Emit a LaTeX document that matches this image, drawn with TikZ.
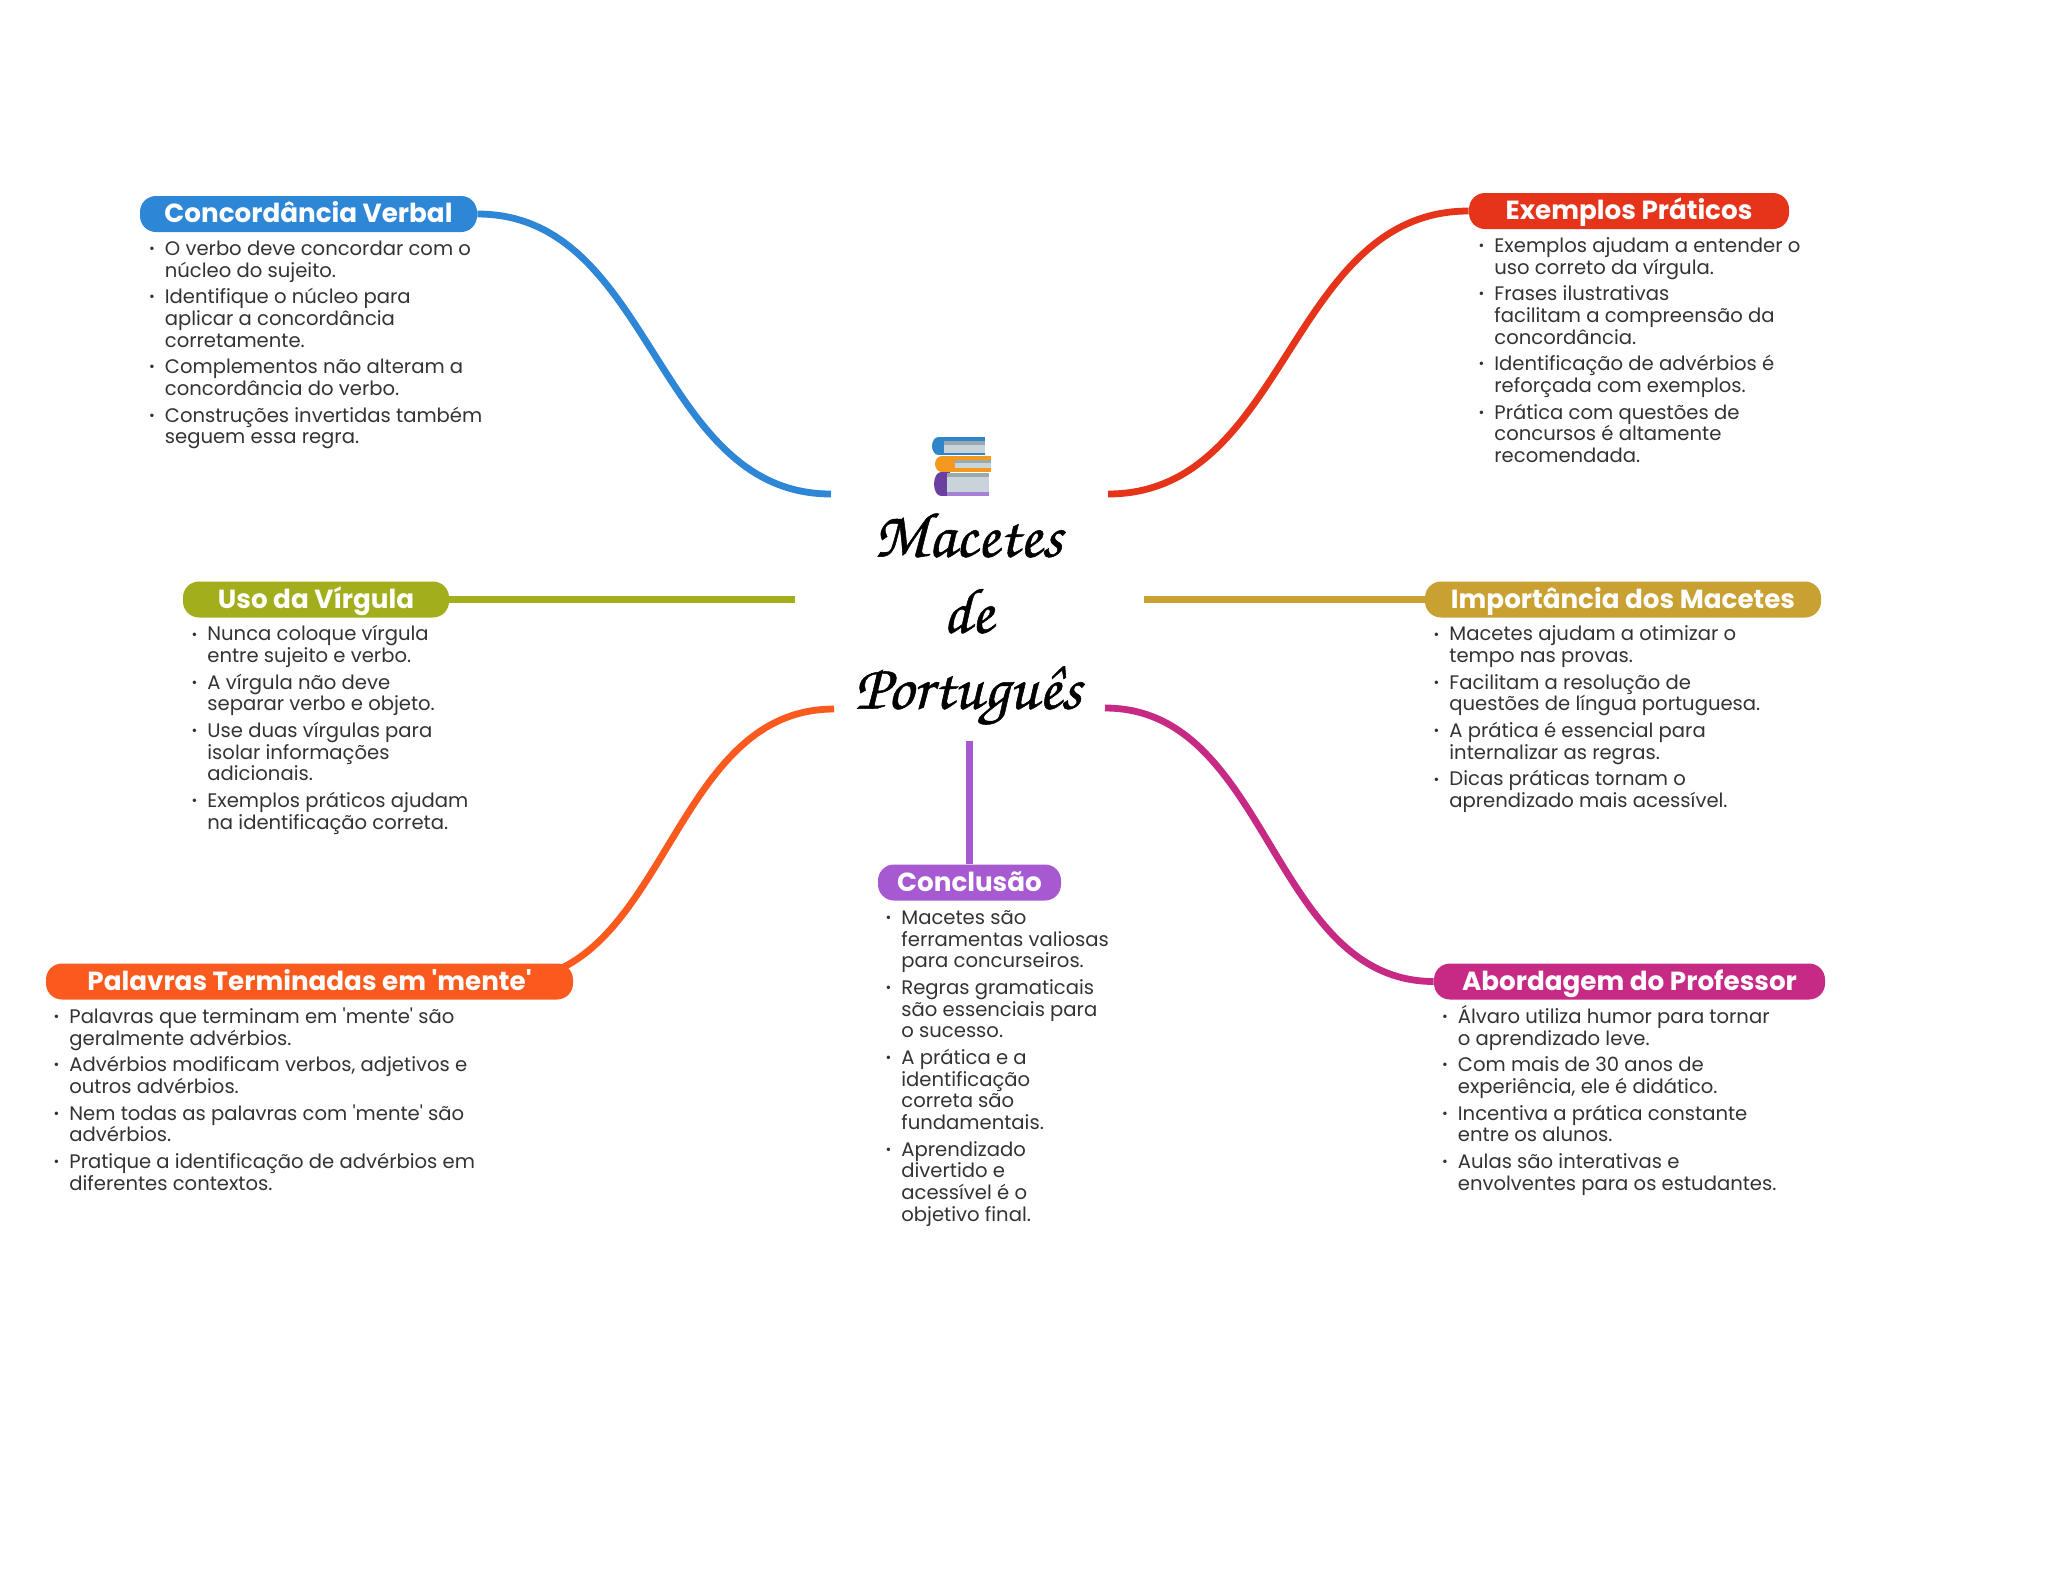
\documentclass[tikz,border=0pt]{standalone}
\usepackage{fontspec}
\setmainfont{Poppins}
\newfontfamily\titlefont[FakeBold=0.8]{TeX Gyre Chorus}
\usetikzlibrary{backgrounds}
\normallineskiplimit=-5pt
\definecolor{cblue}{HTML}{2E86D6}
\definecolor{cred}{HTML}{E5341A}
\definecolor{colive}{HTML}{A3AE1C}
\definecolor{cgold}{HTML}{C9A032}
\definecolor{corange}{HTML}{FA5A1E}
\definecolor{cmag}{HTML}{C72A85}
\definecolor{cpurple}{HTML}{A759D1}
\definecolor{bodyc}{HTML}{333333}
\definecolor{bkblue}{HTML}{2E86C8}
\definecolor{bkorange}{HTML}{F39A1E}
\definecolor{bkpurple}{HTML}{6A3FA0}
\definecolor{bklilac}{HTML}{A67FD6}
\definecolor{bkpage}{HTML}{C9D4DA}
\definecolor{bkshade}{HTML}{9AA8B0}
\newcommand\bul{\leavevmode\rule{0pt}{8pt}\llap{\raisebox{0.9pt}{\fontsize{7}{7}\selectfont\textbullet}\hspace{5pt}}}
\newcommand\gap{\\[2.45pt]}
\newcommand\aps{\textquotesingle{}}
\tikzset{
  x=0.5pt,y=-0.5pt,
  pill/.style={fill=#1,rounded corners=8pt,minimum height=18pt,inner sep=0pt,text=white,
    text height=10.2pt,text depth=1.3pt,
    font=\fontsize{13.1}{16}\selectfont\bfseries},
  body/.style={anchor=north west,inner sep=0pt,align=left,text=bodyc,
    font=\fontsize{9.8}{10.85}\selectfont},
  link/.style={line width=3.4pt,draw=#1},
}
\begin{document}
\begin{tikzpicture}
\useasboundingbox (0,0) rectangle (2048,1569);
\begin{scope}[on background layer]
\fill[white] (0,0) rectangle (2048,1569);
\end{scope}
% central title
\node[inner sep=0pt,align=center,font=\titlefont\fontsize{32.2}{38}\selectfont] (title) at (968,619) {Macetes\\de\\Português};
% books icon
\fill[bkblue] (938.5,446) ellipse (6.5 and 9);
\fill[bkblue] (938,437) rectangle (985,455);
\fill[bkpage] (944,441) rectangle (985,453);
\fill[bkshade] (944,441) rectangle (985,445);
\fill[bkorange] (942,464) ellipse (7 and 8);
\fill[bkorange] (942,456) rectangle (991,472);
\fill[bkpage] (955,460) rectangle (991,468);
\fill[bkshade] (955,460) rectangle (991,463);
\fill[bkpurple] (941,484) ellipse (7 and 12);
\fill[bkpurple] (941,472) rectangle (950,496);
\fill[bkpage] (947,473) rectangle (989,492);
\fill[bkshade] (947,473) rectangle (989,477);
\fill[bklilac] (947,492) rectangle (989,496);
% pills
\node[pill=cblue,minimum width=168.5pt] (conc) at (308.5,214) {Concordância Verbal};
\node[pill=cred,minimum width=160pt] (exem) at (1629,211) {Exemplos Práticos};
\node[pill=colive,minimum width=133pt] (uso) at (316,599.5) {Uso da Vírgula};
\node[pill=cgold,minimum width=198pt] (impo) at (1623,599.5) {Importância dos Macetes};
\node[pill=corange,minimum width=263.5pt] (pala) at (309.5,981.5) {Palavras Terminadas em \aps mente\aps};
\node[pill=cmag,minimum width=195.5pt] (abor) at (1629.5,981.5) {Abordagem do Professor};
\node[pill=cpurple,minimum width=91.5pt] (conl) at (969.5,882.5) {Conclusão};
% free ends near the title
\coordinate (tblue) at (831,494);
\coordinate (tred) at (1108,494);
\coordinate (tolive) at (795,599.5);
\coordinate (tgold) at (1144,599.5);
\coordinate (torange) at (834,709);
\coordinate (tmag) at (1105,708);
\coordinate (tpurple) at (969.5,741);
\coordinate (porange) at (505,981);
\begin{scope}[on background layer]
\draw[link=cblue] (conc.east) .. controls (654,214) and (654,494) .. (tblue);
\draw[link=cred] (exem.west) .. controls (1288,211) and (1288,494) .. (tred);
\draw[link=colive] (uso.east) -- (tolive);
\draw[link=cgold] (impo.west) -- (tgold);
\draw[link=corange] (porange) .. controls (668,981) and (668,709) .. (torange);
\draw[link=cmag] (abor.west) .. controls (1270,981) and (1270,708) .. (tmag);
\draw[link=cpurple] (conl.north) -- (tpurple);
\end{scope}
% bodies
\node[body] (bconc) at (164.5,239) {\bul O verbo deve concordar com o\\núcleo do sujeito.\gap
\bul Identifique o núcleo para\\aplicar a concordância\\corretamente.\gap
\bul Complementos não alteram a\\concordância do verbo.\gap
\bul Construções invertidas também\\seguem essa regra.};
\node[body] (bexem) at (1494,236) {\bul Exemplos ajudam a entender o\\uso correto da vírgula.\gap
\bul Frases ilustrativas\\facilitam a compreensão da\\concordância.\gap
\bul Identificação de advérbios é\\reforçada com exemplos.\gap
\bul Prática com questões de\\concursos é altamente\\recomendada.};
\node[body] (buso) at (207,624.5) {\bul Nunca coloque vírgula\\entre sujeito e verbo.\gap
\bul A vírgula não deve\\separar verbo e objeto.\gap
\bul Use duas vírgulas para\\isolar informações\\adicionais.\gap
\bul Exemplos práticos ajudam\\na identificação correta.};
\node[body] (bimpo) at (1449,624.5) {\bul Macetes ajudam a otimizar o\\tempo nas provas.\gap
\bul Facilitam a resolução de\\questões de língua portuguesa.\gap
\bul A prática é essencial para\\internalizar as regras.\gap
\bul Dicas práticas tornam o\\aprendizado mais acessível.};
\node[body] (bpala) at (69,1007) {\bul Palavras que terminam em \aps mente\aps{} são\\geralmente advérbios.\gap
\bul Advérbios modificam verbos, adjetivos e\\outros advérbios.\gap
\bul Nem todas as palavras com \aps mente\aps{} são\\advérbios.\gap
\bul Pratique a identificação de advérbios em\\diferentes contextos.};
\node[body] (bconl) at (901,908) {\bul Macetes são\\ferramentas valiosas\\para concurseiros.\gap
\bul Regras gramaticais\\são essenciais para\\o sucesso.\gap
\bul A prática e a\\identificação\\correta são\\fundamentais.\gap
\bul Aprendizado\\divertido e\\acessível é o\\objetivo final.};
\node[body] (babor) at (1457.5,1003) {\bul\rule{0pt}{10pt}Álvaro utiliza humor para tornar\\o aprendizado leve.\gap
\bul Com mais de 30 anos de\\experiência, ele é didático.\gap
\bul Incentiva a prática constante\\entre os alunos.\gap
\bul Aulas são interativas e\\envolventes para os estudantes.};
\end{tikzpicture}
\end{document}
